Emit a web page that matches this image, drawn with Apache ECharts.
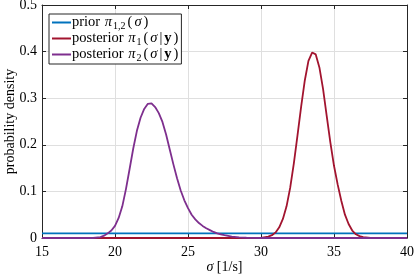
<!DOCTYPE html>
<html>
<head>
<meta charset="utf-8">
<script src="https://cdn.jsdelivr.net/npm/echarts@6/dist/echarts.min.js"></script>
<style>
html,body{margin:0;padding:0;background:#fff;}
#c{width:414px;height:278px;}
</style>
</head>
<body>
<div id="c"></div>
<script>
// ---- data ----
const xTicks = [15, 20, 25, 30, 35, 40];
const yTicks = [0, 0.1, 0.2, 0.3, 0.4, 0.5];

const priorSigma = [15, 40];
const priorDensity = [0.01, 0.01];

const post1Sigma = [15, 30, 30.5, 30.75, 31, 31.25, 31.5, 31.75, 32, 32.25, 32.5, 32.75, 33, 33.25, 33.5, 33.6, 33.75, 34, 34.25, 34.5, 34.75, 35, 35.25, 35.5, 35.75, 36, 36.25, 36.5, 36.75, 37, 37.5, 40];
const post1Density = [0, 0, 0.003, 0.006, 0.012, 0.023, 0.041, 0.068, 0.108, 0.16, 0.22, 0.282, 0.338, 0.38, 0.398, 0.4, 0.394, 0.366, 0.32, 0.262, 0.205, 0.155, 0.115, 0.08, 0.05, 0.03, 0.016, 0.008, 0.004, 0.002, 0, 0];

const post2Sigma = [15, 18.5, 19, 19.25, 19.5, 19.75, 20, 20.25, 20.5, 20.75, 21, 21.25, 21.5, 21.75, 22, 22.25, 22.35, 22.5, 22.75, 23, 23.25, 23.5, 23.75, 24, 24.25, 24.5, 24.75, 25, 25.25, 25.5, 25.75, 26, 26.25, 26.5, 26.75, 27, 27.25, 27.5, 28, 28.5, 29, 30, 40];
const post2Density = [0, 0, 0.002, 0.005, 0.01, 0.016, 0.026, 0.043, 0.068, 0.105, 0.148, 0.192, 0.23, 0.258, 0.277, 0.288, 0.29, 0.289, 0.281, 0.268, 0.249, 0.222, 0.19, 0.158, 0.128, 0.102, 0.081, 0.064, 0.05, 0.04, 0.032, 0.026, 0.021, 0.017, 0.013, 0.01, 0.008, 0.006, 0.003, 0.0015, 0.0005, 0, 0];

const seriesNames = ['prior', 'post1', 'post2'];
const seriesColors = ['#0072BD', '#A2142F', '#7E2F8E'];

// ---- chart ----
const pairs = (xs, ys) => xs.map((x, i) => [x, ys[i]]);
const FONT = '"Liberation Serif", "DejaVu Serif", serif';
const AX = '#262626';
const FS = 14;
const LFS = 14.5;
const LH = 17;

const chart = echarts.init(document.getElementById('c'), null, {renderer: 'canvas'});

const mk = (extra) => Object.assign({fontFamily: FONT, fontSize: LFS, color: '#000', lineHeight: LH, verticalAlign: 'middle'}, extra);
const legendRich = {
  t: mk({}),
  p: mk({padding: [0, 1, 0, 1]}),
  i: mk({fontStyle: 'italic', padding: [0, 1, 0, 1]}),
  b: mk({fontWeight: 'bold', padding: [0, 1, 0, 1]}),
  s: {fontFamily: FONT, fontSize: 10, color: '#000', lineHeight: 10, verticalAlign: 'bottom', padding: [0, 1, 0, 0]}
};
const axisRich = {
  t: {fontFamily: FONT, fontSize: FS, color: '#000', lineHeight: 16},
  i: {fontFamily: FONT, fontSize: FS, fontStyle: 'italic', color: '#000', lineHeight: 16}
};

const legendText = {
  prior: '{t|prior }{i|π}{s|1,2}{p|(}{i|σ}{p|)}',
  post1: '{t|posterior }{i|π}{s|1}{p|(}{i|σ}{p||}{b|y}{p|)}',
  post2: '{t|posterior }{i|π}{s|2}{p|(}{i|σ}{p||}{b|y}{p|)}'
};

const xMin = xTicks[0], xMax = xTicks[xTicks.length - 1];
const yMin = yTicks[0], yMax = yTicks[yTicks.length - 1];
const xInt = xTicks[1] - xTicks[0];
const yInt = yTicks[1] - yTicks[0];

const labelStyle = {fontFamily: FONT, fontSize: FS, color: '#000'};

chart.setOption({
  animation: false,
  backgroundColor: '#fff',
  grid: {left: 42, right: 7, top: 5, bottom: 40, containLabel: false, outerBoundsMode: 'none'},
  legend: {
    orient: 'vertical',
    left: 49, top: 14,
    padding: [1, 2, 1, 3],
    backgroundColor: '#fff',
    borderColor: AX, borderWidth: 1, borderRadius: 0,
    itemWidth: 19, itemHeight: 2, itemGap: 0,
    icon: 'rect',
    data: seriesNames,
    formatter: name => legendText[name],
    textStyle: {rich: legendRich, padding: [0, 0, 0, -4]}
  },
  xAxis: [{
    type: 'value', min: xMin, max: xMax, interval: xInt,
    position: 'bottom',
    name: '{i|σ}{t| [1/s]}', nameLocation: 'middle', nameGap: 21, nameMoveOverlap: false,
    nameTextStyle: {rich: axisRich},
    axisLine: {show: true, onZero: false, lineStyle: {color: AX, width: 1}},
    axisTick: {show: true, inside: true, length: 4, lineStyle: {color: AX}},
    axisLabel: Object.assign({margin: 7}, labelStyle),
    splitLine: {show: true, lineStyle: {color: '#dfdfdf', width: 1}}
  }, {
    type: 'value', min: xMin, max: xMax, interval: xInt,
    position: 'top',
    axisLine: {show: true, onZero: false, lineStyle: {color: AX, width: 1}},
    axisTick: {show: true, inside: true, length: 4, lineStyle: {color: AX}},
    axisLabel: {show: false},
    splitLine: {show: false}
  }],
  yAxis: [{
    type: 'value', min: yMin, max: yMax, interval: yInt,
    position: 'left',
    name: 'probability density', nameLocation: 'middle', nameGap: 25, nameRotate: 90, nameMoveOverlap: false,
    nameTextStyle: {fontFamily: FONT, fontSize: FS, color: '#000'},
    axisLine: {show: true, onZero: false, lineStyle: {color: AX, width: 1}},
    axisTick: {show: true, inside: true, length: 4, lineStyle: {color: AX}},
    axisLabel: Object.assign({margin: 5}, labelStyle),
    splitLine: {show: true, lineStyle: {color: '#dfdfdf', width: 1}}
  }, {
    type: 'value', min: yMin, max: yMax, interval: yInt,
    position: 'right',
    axisLine: {show: true, onZero: false, lineStyle: {color: AX, width: 1}},
    axisTick: {show: true, inside: true, length: 4, lineStyle: {color: AX}},
    axisLabel: {show: false},
    splitLine: {show: false}
  }],
  series: [
    {name: 'prior', type: 'line', data: pairs(priorSigma, priorDensity), color: seriesColors[0]},
    {name: 'post1', type: 'line', data: pairs(post1Sigma, post1Density), color: seriesColors[1]},
    {name: 'post2', type: 'line', data: pairs(post2Sigma, post2Density), color: seriesColors[2]}
  ].map(s => Object.assign(s, {
    xAxisIndex: 0, yAxisIndex: 0,
    showSymbol: false, symbol: 'none', smooth: false,
    lineStyle: {width: 1.8, color: s.color},
    itemStyle: {color: s.color},
    clip: true
  }))
});
</script>
</body>
</html>
